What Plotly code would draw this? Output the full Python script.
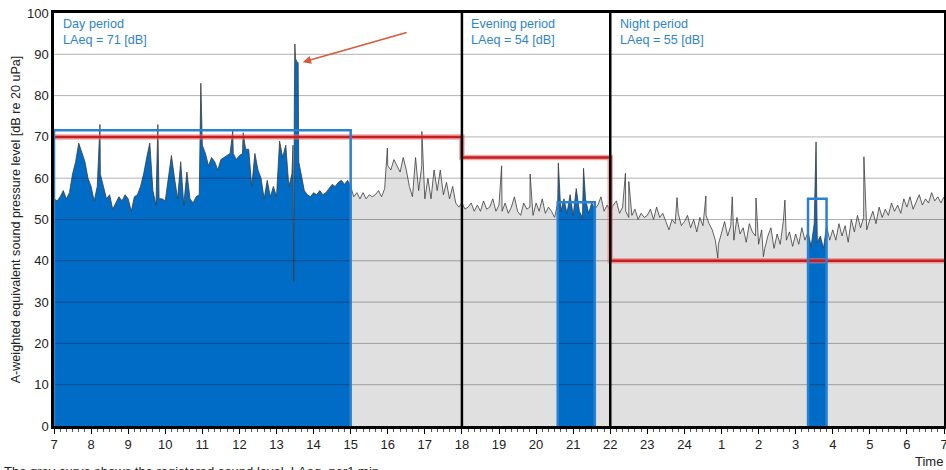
import numpy as np
import plotly.graph_objects as go

# ---------------- data ----------------
STEP_MIN = 5  # sampling step of the values below, minutes

# LAeq per 5 min, 7:00 -> 14:55 (12 values per hour)
day_levels = [
    55, 54.5, 55.5, 57, 55, 56.5, 61, 64, 68.5, 66, 64, 60,          # 7
    58, 54.5, 58, 61, 58, 55, 56, 52.5, 54, 55.5, 54.5, 56,          # 8
    55, 52, 55.5, 56, 58, 61, 65, 68.5, 57, 53.5, 55, 55,            # 9
    54.5, 60, 65.5, 60, 55, 64, 53.5, 61.5, 55, 54, 55.5, 56,        # 10
    68, 66, 63, 65, 64, 62, 64.5, 65, 65.5, 66, 66, 64.5,            # 11
    65.5, 66, 67, 67, 58, 66, 62, 60, 55, 59.5, 55.5, 58,            # 12
    55.5, 69, 65, 68, 58, 61, 90, 88, 61, 57, 56, 55.5,              # 13
    56.5, 56, 57, 56, 56.5, 57.5, 58.5, 58, 59, 59.5, 58.5, 59.5,    # 14
]
# 15:00 -> 17:55
late_day_levels = [
    58, 55.5, 56.5, 55, 56.5, 55, 56, 55.5, 56, 57, 55.5, 57.5,      # 15
    63, 62, 64.5, 63, 61.5, 65, 62, 58, 55.5, 65, 57, 63,            # 16
    55, 60, 55, 62, 57, 62, 56, 59, 55, 58, 54, 53,                  # 17
]
# 18:00 -> 21:55
evening_levels = [
    54, 52.5, 53, 54, 52, 53.5, 52, 54.5, 52.5, 53, 55, 52,          # 18
    53.5, 52, 54, 51.5, 53, 55.5, 52, 51, 54, 52.5, 53, 51,          # 19
    54, 52, 55, 51.5, 53, 52, 50.5, 54, 52, 55, 51.5, 56,            # 20
    51, 57.5, 52, 50.5, 55, 51.5, 54, 52.5, 53.5, 55.5, 52, 53.5,    # 21
]
# 22:00 -> 7:00 next morning
night_levels = [
    52, 53.5, 54.5, 51.5, 53, 52, 50.5, 51, 52.5, 50, 51.5, 50.5,    # 22
    51, 52.5, 50, 53, 50.5, 51.5, 49.5, 47.5, 50, 49, 51.5, 48.5,    # 23
    49.5, 51, 48, 50, 47, 50.5, 48.5, 51, 49, 47.5, 45, 44,          # 24
    47, 49.5, 46, 48.5, 45, 50.5, 46.5, 48, 44.5, 49, 47, 46,        # 1
    44, 47.5, 43, 46, 48, 43, 46.5, 44, 49.5, 45, 47, 43.5,          # 2
    46.5, 44, 48, 45, 47, 43.5, 49, 44.5, 46, 43, 48.5, 45,          # 3
    47.5, 45, 49, 46, 48.5, 44.5, 50, 47, 51, 48, 50.5, 47.5,        # 4
    50, 52, 49, 53, 50.5, 52.5, 51, 54, 52, 53.5, 51.5, 55,          # 5
    53, 55.5, 52.5, 54.5, 56, 53.5, 55, 54, 56.5, 54.5, 55.5, 54,    # 6
    55.5,                                                            # 7
]
# short 1-min events (hours since midnight of day 1, level dB)
spike_times = [8.24, 9.80, 10.96, 11.82, 12.10, 13.445, 13.465, 13.48, 13.495,
               13.51, 13.56, 13.60, 15.99, 16.92, 19.07, 19.84, 20.60, 21.28,
               22.41, 22.50, 23.80, 24.58, 24.90, 25.29, 25.93, 26.13, 26.71,
               27.55, 28.84]
spike_levels = [73, 73, 83, 71.5, 71, 68, 35, 77, 92.5,
                89, 88, 64, 67.3, 71.3, 63, 61, 63.7, 62.4,
                61.2, 59.2, 55.3, 55.7, 40.7, 55.5, 55.2, 41, 54.7,
                68.8, 65.2]

# periods
period_names = ["Day period", "Evening period", "Night period"]
period_laeq = [71, 54, 55]
period_starts = [7, 18, 22]
period_ends = [18, 22, 31]
limit_levels = [70, 65, 40]

# highlighted (blue) intervals and their LAeq boxes
box_starts = [7, 20 + 35 / 60, 27 + 20 / 60]
box_ends = [15, 21 + 35 / 60, 27 + 50 / 60]
box_levels = [71.6, 54.2, 55.0]

hour_ticks = list(range(7, 32))
hour_labels = [str(h if h <= 24 else h - 24) for h in hour_ticks]
y_ticks = list(range(0, 101, 10))

arrow_tail = (16.55, 95.4)
arrow_head = (13.71, 88.1)

# ---------------- build series ----------------
grid_levels = day_levels + late_day_levels + evening_levels + night_levels
grid_times = 7 + np.arange(len(grid_levels)) * STEP_MIN / 60.0
t_all = np.concatenate([grid_times, np.array(spike_times)])
v_all = np.concatenate([np.array(grid_levels, float), np.array(spike_levels, float)])
order = np.argsort(t_all, kind="stable")
t_all = t_all[order]
v_all = v_all[order]

BLUE_FILL = "#006cc6"
BLUE_LINE = "#2a80d2"
TEXT_BLUE = "#2f83cc"

fig = go.Figure()

# grey area under registered curve
fig.add_trace(go.Scatter(x=t_all, y=v_all, mode="lines", line=dict(width=0),
                         fill="tozeroy", fillcolor="#e0e0e0", hoverinfo="skip"))

# blue filled intervals
eps = 1e-6
for a, b in zip(box_starts, box_ends):
    m = (t_all >= a - eps) & (t_all <= b + eps)
    fig.add_trace(go.Scatter(x=t_all[m], y=v_all[m], mode="lines", line=dict(width=0),
                             fill="tozeroy", fillcolor=BLUE_FILL, hoverinfo="skip"))

# horizontal grid lines (over fills)
gx, gy = [], []
for yv in y_ticks[1:-1]:
    gx += [7, 31, None]
    gy += [yv, yv, None]
fig.add_trace(go.Scatter(x=gx, y=gy, mode="lines",
                         line=dict(color="rgba(0,0,0,0.3)", width=1), hoverinfo="skip"))

# registered curve
fig.add_trace(go.Scatter(x=t_all, y=v_all, mode="lines",
                         line=dict(color="#3c3c3c", width=0.8), hoverinfo="skip"))

# limit (red) line
lx, ly = [], []
for s, e, lv in zip(period_starts, period_ends, limit_levels):
    lx += [s, e]
    ly += [lv, lv]
fig.add_trace(go.Scatter(x=lx, y=ly, mode="lines",
                         line=dict(color="rgba(235,110,110,0.6)", width=5.5), hoverinfo="skip"))
fig.add_trace(go.Scatter(x=lx, y=ly, mode="lines",
                         line=dict(color="#c41e22", width=2.5), hoverinfo="skip"))

# LAeq boxes
for a, b, lv in zip(box_starts, box_ends, box_levels):
    fig.add_trace(go.Scatter(x=[a, a, b, b], y=[0, lv, lv, 0], mode="lines",
                             line=dict(color=BLUE_LINE, width=2.5), hoverinfo="skip"))

# period boundaries
for s in period_starts[1:]:
    fig.add_shape(type="line", xref="x", yref="y", x0=s, x1=s, y0=0, y1=100,
                  line=dict(color="black", width=2.5), layer="above")

# period labels
for name, laeq, s in zip(period_names, period_laeq, period_starts):
    fig.add_annotation(x=s + 0.2, y=99.6, xref="x", yref="y", xanchor="left", yanchor="top",
                       text=f"{name}<br>LAeq = {laeq} [dB]", showarrow=False, align="left",
                       font=dict(color=TEXT_BLUE, size=12.6))

# arrow
fig.add_annotation(x=arrow_head[0], y=arrow_head[1], ax=arrow_tail[0], ay=arrow_tail[1],
                   xref="x", yref="y", axref="x", ayref="y", text="", showarrow=True,
                   arrowhead=2, arrowsize=1.1, arrowwidth=1.5, arrowcolor="#d65a3c")

# axis / caption texts
fig.add_annotation(x=1.0015, y=-0.085, xref="paper", yref="paper", xanchor="right",
                   yanchor="middle", text="Time", showarrow=False, font=dict(size=13, color="#222"))
fig.add_annotation(x=-52 / 890, y=-0.088, xref="paper", yref="paper", xanchor="left",
                   yanchor="top",
                   text="The grey curve shows the registered sound level, LAeq, per1 min",
                   showarrow=False, font=dict(size=13, color="#222"))

fig.update_layout(
    width=946, height=470,
    margin=dict(l=54, r=2, t=13, b=44),
    plot_bgcolor="white", paper_bgcolor="white",
    showlegend=False,
    font=dict(family="Liberation Sans, Arial, sans-serif", size=13, color="#222"),
)
fig.update_xaxes(range=[7, 31], tickvals=hour_ticks, ticktext=hour_labels, automargin=False,
                 ticklabeloverflow="allow",
                 ticks="outside", ticklen=5, tickcolor="black", tickwidth=1,
                 showgrid=False, zeroline=False, showline=True, linecolor="black",
                 linewidth=2.5, mirror=True,
                 minor=dict(dtick=1 / 6, ticklen=3, tickcolor="#555", ticks="outside"))
fig.update_yaxes(range=[0, 100], tickvals=y_ticks, showgrid=False, zeroline=False, automargin=False,
                 showline=True, linecolor="black", linewidth=2.5, mirror=True, ticks="",
                 title=dict(text="A-weighted equivalent sound pressure level [dB re 20 uPa]",
                            font=dict(size=12.6, color="#222"), standoff=4))

fig.write_html("out.html", config={"displayModeBar": False},
               post_script="document.body.style.margin='0';document.body.style.overflow='hidden';")
